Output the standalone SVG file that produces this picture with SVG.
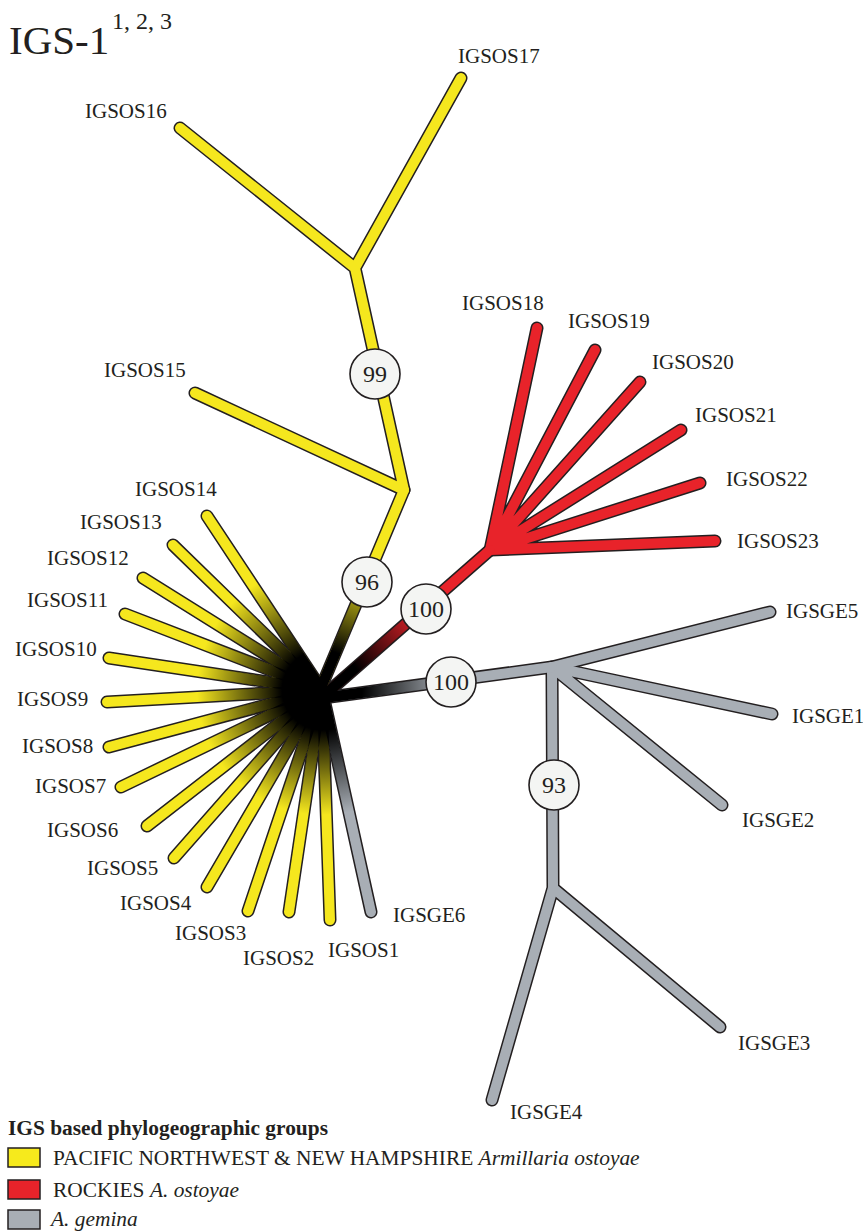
<svg xmlns="http://www.w3.org/2000/svg" xmlns:xlink="http://www.w3.org/1999/xlink" width="863" height="1231" viewBox="0 0 863 1231">
<style>
.o{fill:none;stroke:#231f20;stroke-width:13;stroke-linecap:round;stroke-linejoin:miter}
.y{fill:none;stroke:#f5e71e;stroke-width:10;stroke-linecap:round;stroke-linejoin:miter}
.r{fill:none;stroke:#e8232a;stroke-width:10;stroke-linecap:round;stroke-linejoin:miter}
.g{fill:none;stroke:#a8aeb5;stroke-width:10;stroke-linecap:round;stroke-linejoin:miter}
.f{fill:none;stroke:url(#fade);stroke-width:10.5;stroke-linecap:round}
.lbl{font-family:"Liberation Serif","Times New Roman",serif;font-size:21px;fill:#231f20}
.bub circle{fill:#f4f5f3;stroke:#231f20;stroke-width:1.6}
.bub text{font-family:"Liberation Serif","Times New Roman",serif;font-size:24px;fill:#231f20;text-anchor:middle}
.leg{font-family:"Liberation Serif","Times New Roman",serif;font-size:21.4px;fill:#231f20}
.box{stroke:#231f20;stroke-width:1.5}
</style>
<defs>
<radialGradient id="fade" gradientUnits="userSpaceOnUse" cx="322" cy="690" r="125">
<stop offset="0" stop-color="#000" stop-opacity="1"/>
<stop offset="0.32" stop-color="#000" stop-opacity="1"/>
<stop offset="1" stop-color="#000" stop-opacity="0"/>
</radialGradient>
<path id="s14" d="M322 690 L207 516"/>
<path id="s13" d="M322 690 L173 545"/>
<path id="s12" d="M322 690 L143 578"/>
<path id="s11" d="M322 690 L125 614"/>
<path id="s10" d="M322 690 L109 658"/>
<path id="s9" d="M322 690 L107 702"/>
<path id="s8" d="M322 690 L109 747"/>
<path id="s7" d="M322 690 L121 787"/>
<path id="s6" d="M322 690 L147 826"/>
<path id="s5" d="M322 690 L174 858"/>
<path id="s4" d="M322 690 L207 887"/>
<path id="s3" d="M322 690 L248 911"/>
<path id="s2" d="M322 690 L289 912"/>
<path id="s1" d="M322 690 L330 920"/>
<path id="e6" d="M322 690 L371 912"/>
<path id="ty" d="M320 690 L404 490"/>
<path id="tr" d="M328 692 L490 550"/>
<path id="tg" d="M330 697 L552 667"/>
<path id="yup" d="M404 490 L355 268 M404 490 L195 393 M355 268 L180 128 M355 268 L461 78"/>
<path id="rup" d="M490 550 L537 328 M490 550 L595 350 M490 550 L640 382 M490 550 L681 430 M490 550 L700 483 M490 550 L715 541"/>
<path id="gup" d="M552 667 L770 612 M552 667 L772 714 M552 667 L722 805 M552 667 L553 888 L720 1027 M553 888 L492 1100"/>
</defs>

<g id="connectors">
<g id="outlines" class="o">
<use xlink:href="#yup"/><use xlink:href="#rup"/><use xlink:href="#gup"/>
<use xlink:href="#ty"/><use xlink:href="#tr"/><use xlink:href="#tg"/>
<use xlink:href="#s14"/><use xlink:href="#s13"/><use xlink:href="#s12"/><use xlink:href="#s11"/><use xlink:href="#s10"/><use xlink:href="#s9"/><use xlink:href="#s8"/><use xlink:href="#s7"/><use xlink:href="#s6"/><use xlink:href="#s5"/><use xlink:href="#s4"/><use xlink:href="#s3"/><use xlink:href="#s2"/><use xlink:href="#s1"/><use xlink:href="#e6"/>
</g>
<g id="yellow-edges" class="y">
<use xlink:href="#yup"/><use xlink:href="#ty"/>
<use xlink:href="#s14"/><use xlink:href="#s13"/><use xlink:href="#s12"/><use xlink:href="#s11"/><use xlink:href="#s10"/><use xlink:href="#s9"/><use xlink:href="#s8"/><use xlink:href="#s7"/><use xlink:href="#s6"/><use xlink:href="#s5"/><use xlink:href="#s4"/><use xlink:href="#s3"/><use xlink:href="#s2"/><use xlink:href="#s1"/>
</g>
<g id="red-edges" class="r"><use xlink:href="#rup"/><use xlink:href="#tr"/></g>
<g id="gray-edges" class="g"><use xlink:href="#gup"/><use xlink:href="#tg"/><use xlink:href="#e6"/></g>
<g id="center-fade" class="f">
<use xlink:href="#ty"/><use xlink:href="#tr"/><use xlink:href="#tg"/>
<use xlink:href="#s14"/><use xlink:href="#s13"/><use xlink:href="#s12"/><use xlink:href="#s11"/><use xlink:href="#s10"/><use xlink:href="#s9"/><use xlink:href="#s8"/><use xlink:href="#s7"/><use xlink:href="#s6"/><use xlink:href="#s5"/><use xlink:href="#s4"/><use xlink:href="#s3"/><use xlink:href="#s2"/><use xlink:href="#s1"/><use xlink:href="#e6"/>
</g>
</g>

<g id="bootstrap-99" class="bub"><circle cx="375" cy="374" r="25"/><text x="375" y="382">99</text></g>
<g id="bootstrap-96" class="bub"><circle cx="367" cy="582" r="25"/><text x="367" y="590">96</text></g>
<g id="bootstrap-100-red" class="bub"><circle cx="426" cy="609" r="25"/><text x="426" y="617">100</text></g>
<g id="bootstrap-100-gray" class="bub"><circle cx="451" cy="682" r="25"/><text x="451" y="690">100</text></g>
<g id="bootstrap-93" class="bub"><circle cx="554" cy="785" r="25"/><text x="554" y="793">93</text></g>

<g id="title"><text x="9" y="54" font-family="Liberation Serif, Times New Roman, serif" font-size="41" fill="#231f20">IGS-1</text><text x="112" y="29" font-family="Liberation Serif, Times New Roman, serif" font-size="24" fill="#231f20">1, 2, 3</text></g>

<g id="leaf-IGSOS17"><text class="lbl" x="458" y="63">IGSOS17</text></g>
<g id="leaf-IGSOS16"><text class="lbl" x="85" y="118">IGSOS16</text></g>
<g id="leaf-IGSOS15"><text class="lbl" x="104" y="377">IGSOS15</text></g>
<g id="leaf-IGSOS14"><text class="lbl" x="135" y="496">IGSOS14</text></g>
<g id="leaf-IGSOS13"><text class="lbl" x="80" y="529">IGSOS13</text></g>
<g id="leaf-IGSOS12"><text class="lbl" x="47" y="565">IGSOS12</text></g>
<g id="leaf-IGSOS11"><text class="lbl" x="27" y="607">IGSOS11</text></g>
<g id="leaf-IGSOS10"><text class="lbl" x="15" y="656">IGSOS10</text></g>
<g id="leaf-IGSOS9"><text class="lbl" x="17" y="706">IGSOS9</text></g>
<g id="leaf-IGSOS8"><text class="lbl" x="22" y="753">IGSOS8</text></g>
<g id="leaf-IGSOS7"><text class="lbl" x="35" y="793">IGSOS7</text></g>
<g id="leaf-IGSOS6"><text class="lbl" x="47" y="837">IGSOS6</text></g>
<g id="leaf-IGSOS5"><text class="lbl" x="87" y="875">IGSOS5</text></g>
<g id="leaf-IGSOS4"><text class="lbl" x="120" y="910">IGSOS4</text></g>
<g id="leaf-IGSOS3"><text class="lbl" x="175" y="940">IGSOS3</text></g>
<g id="leaf-IGSOS2"><text class="lbl" x="243" y="965">IGSOS2</text></g>
<g id="leaf-IGSOS1"><text class="lbl" x="328" y="957">IGSOS1</text></g>
<g id="leaf-IGSGE6"><text class="lbl" x="393" y="922">IGSGE6</text></g>
<g id="leaf-IGSOS18"><text class="lbl" x="462" y="310">IGSOS18</text></g>
<g id="leaf-IGSOS19"><text class="lbl" x="568" y="328">IGSOS19</text></g>
<g id="leaf-IGSOS20"><text class="lbl" x="652" y="369">IGSOS20</text></g>
<g id="leaf-IGSOS21"><text class="lbl" x="695" y="422">IGSOS21</text></g>
<g id="leaf-IGSOS22"><text class="lbl" x="726" y="486">IGSOS22</text></g>
<g id="leaf-IGSOS23"><text class="lbl" x="737" y="548">IGSOS23</text></g>
<g id="leaf-IGSGE5"><text class="lbl" x="786" y="618">IGSGE5</text></g>
<g id="leaf-IGSGE1"><text class="lbl" x="792" y="723">IGSGE1</text></g>
<g id="leaf-IGSGE2"><text class="lbl" x="742" y="827">IGSGE2</text></g>
<g id="leaf-IGSGE3"><text class="lbl" x="738" y="1050">IGSGE3</text></g>
<g id="leaf-IGSGE4"><text class="lbl" x="510" y="1119">IGSGE4</text></g>

<g id="legend">
<text class="leg" x="8" y="1135" font-weight="bold">IGS based phylogeographic groups</text>
<rect class="box" x="8" y="1148" width="32" height="19" fill="#f6ea1c"/>
<text class="leg" x="53" y="1165">PACIFIC NORTHWEST &amp; NEW HAMPSHIRE <tspan font-style="italic">Armillaria ostoyae</tspan></text>
<rect class="box" x="8" y="1180" width="32" height="19" fill="#e8232a"/>
<text class="leg" x="53" y="1197">ROCKIES <tspan font-style="italic">A. ostoyae</tspan></text>
<rect class="box" x="8" y="1210" width="32" height="19" fill="#a8aeb5"/>
<text class="leg" x="51" y="1226" font-style="italic">A. gemina</text>
</g>
</svg>
